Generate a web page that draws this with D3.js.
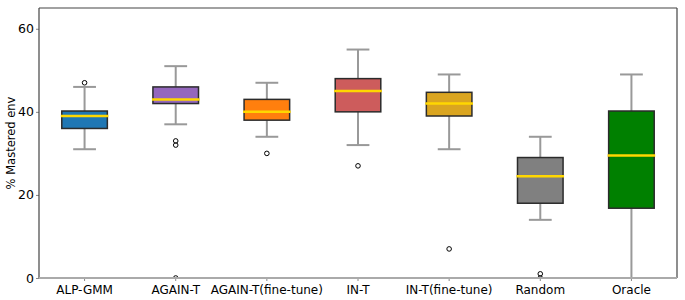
<!DOCTYPE html>
<html>
<head>
<meta charset="utf-8">
<script src="https://cdn.jsdelivr.net/npm/d3@7"></script>
<style>
  body { margin: 0; background: #fff; }
  svg { font-family: "DejaVu Sans", sans-serif; }
</style>
</head>
<body>
<script>
// Box plot data
const categories = ["ALP-GMM", "AGAIN-T", "AGAIN-T(fine-tune)", "IN-T", "IN-T(fine-tune)", "Random", "Oracle"];
const whiskerLow = [31, 37, 34, 32, 31, 14, 0];
const q1 = [36, 42, 38, 40, 39, 18, 16.8];
const medians = [39, 43, 40, 45, 42, 24.5, 29.5];
const q3 = [40.2, 46, 43, 48, 44.7, 29, 40.2];
const whiskerHigh = [46, 51, 47, 55, 49, 34, 49];
const outliers = [[47], [33, 32, 0], [30], [27], [7], [1, 0], []];
const colors = ["#1f77b4", "#9467bd", "#ff7f0e", "#cd5c5c", "#daa520", "#808080", "#008000"];
const yTicks = [0, 20, 40, 60];

const W = 685, H = 300;
const margin = {top: 8, right: 8, bottom: 22, left: 39};
const width = W - margin.left - margin.right,
      height = H - margin.top - margin.bottom;

const svg = d3.select("body").append("svg")
    .attr("width", W)
    .attr("height", H);

const g = svg.append("g")
    .attr("transform", `translate(${margin.left},${margin.top})`);

svg.append("defs").append("clipPath").attr("id", "plot-clip")
  .append("rect").attr("width", width).attr("height", height);

const x = d3.scaleBand()
    .domain(categories)
    .range([0, width])
    .padding(0);

const y = d3.scaleLinear()
    .domain([0, 65])
    .range([height, 0]);

const boxW = x.bandwidth() * 0.5;
const capW = boxW * 0.5;

const rows = categories.map((c, i) => ({
  cat: c, lo: whiskerLow[i], q1: q1[i], med: medians[i], q3: q3[i], hi: whiskerHigh[i],
  out: outliers[i], color: colors[i]
}));

const plot = g.append("g").attr("clip-path", "url(#plot-clip)");

const box = plot.selectAll(".box")
  .data(rows)
  .enter()
  .append("g")
    .attr("class", "box")
    .attr("transform", d => `translate(${x(d.cat) + x.bandwidth() / 2},0)`);

// whiskers
box.append("line")
    .attr("x1", 0).attr("x2", 0)
    .attr("y1", d => y(d.q3)).attr("y2", d => y(d.hi))
    .attr("stroke", "#999").attr("stroke-width", 2);
box.append("line")
    .attr("x1", 0).attr("x2", 0)
    .attr("y1", d => y(d.q1)).attr("y2", d => y(d.lo))
    .attr("stroke", "#999").attr("stroke-width", 2);

// caps
box.append("line")
    .attr("x1", -capW / 2).attr("x2", capW / 2)
    .attr("y1", d => y(d.hi)).attr("y2", d => y(d.hi))
    .attr("stroke", "#999").attr("stroke-width", 2);
box.append("line")
    .attr("x1", -capW / 2).attr("x2", capW / 2)
    .attr("y1", d => y(d.lo)).attr("y2", d => y(d.lo))
    .attr("stroke", "#999").attr("stroke-width", 2);

// boxes
box.append("rect")
    .attr("x", -boxW / 2)
    .attr("width", boxW)
    .attr("y", d => y(d.q3))
    .attr("height", d => y(d.q1) - y(d.q3))
    .attr("fill", d => d.color)
    .attr("stroke", "#2b2b2b")
    .attr("stroke-width", 1.5);

// medians
box.append("line")
    .attr("x1", -boxW / 2 - 1).attr("x2", boxW / 2 + 1)
    .attr("y1", d => y(d.med)).attr("y2", d => y(d.med))
    .attr("stroke", "#ffd700").attr("stroke-width", 2.5);

// outliers
box.selectAll(".flier")
  .data(d => d.out)
  .enter()
  .append("circle")
    .attr("class", "flier")
    .attr("cx", 0)
    .attr("cy", d => y(d))
    .attr("r", 2.3)
    .attr("fill", "none")
    .attr("stroke", "#000")
    .attr("stroke-width", 1);

// Y axis
const yAxis = g.append("g")
    .call(d3.axisLeft(y).tickValues(yTicks).tickSize(3).tickPadding(2).tickFormat(d3.format("d")));
yAxis.select(".domain").remove();
yAxis.selectAll("line").attr("stroke", "#888");
yAxis.selectAll("text").attr("font-size", 12.5).attr("fill", "#000").attr("font-family", "DejaVu Sans");

// X axis
const xAxis = g.append("g")
    .attr("transform", `translate(0,${height})`)
    .call(d3.axisBottom(x).tickSize(3).tickPadding(4));
xAxis.select(".domain").remove();
xAxis.selectAll("line").attr("stroke", "#888");
xAxis.selectAll("text").attr("font-size", 12).attr("fill", "#000").attr("font-family", "DejaVu Sans");

// spines
g.append("line").attr("x1", 0).attr("x2", 0).attr("y1", 0).attr("y2", height)
    .attr("stroke", "#444").attr("stroke-width", 1.2);
g.append("line").attr("x1", 0).attr("x2", width).attr("y1", 0).attr("y2", 0)
    .attr("stroke", "#444").attr("stroke-width", 1.2);
g.append("line").attr("x1", width).attr("x2", width).attr("y1", 0).attr("y2", height)
    .attr("stroke", "#444").attr("stroke-width", 1.2);
g.append("line").attr("x1", 0).attr("x2", width).attr("y1", height).attr("y2", height)
    .attr("stroke", "#aaa").attr("stroke-width", 2);

// Y label
svg.append("text")
    .attr("transform", `translate(15,${margin.top + height / 2}) rotate(-90)`)
    .attr("text-anchor", "middle")
    .attr("font-size", 11.5)
    .text("% Mastered env");
</script>
</body>
</html>
